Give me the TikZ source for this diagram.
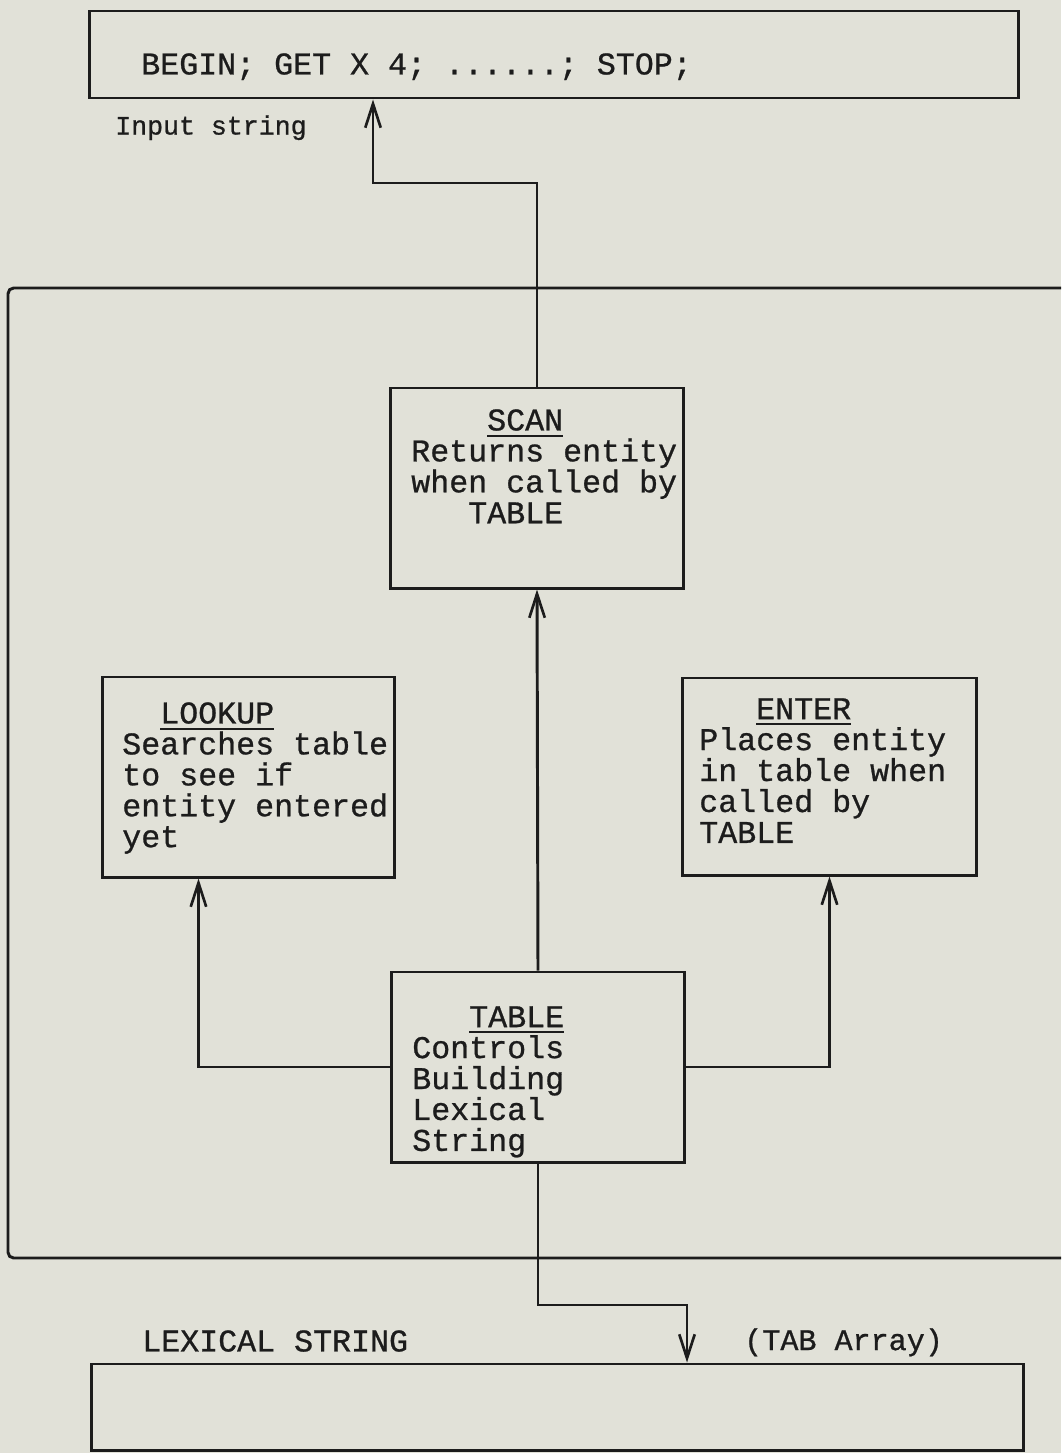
\documentclass[tikz,border=0pt]{standalone}
\usepackage{fontspec}
\newfontfamily\typer{Liberation Mono}[WordSpace={1,0,0},PunctuationSpace=WordSpace,FakeBold=0.8]
\usetikzlibrary{positioning, calc, arrows.meta}
\usepackage{xcolor}
\definecolor{Paper}{HTML}{E1E1D8}
\definecolor{Ink}  {HTML}{1C1C1C}
\newcommand{\rubric}[1]{\setbox0\hbox{#1}\rlap{\rule[-0.2em]{\wd0}{1.5pt}}\box0}
\tikzset{
  every node/.style={font={\typer\fontsize{22.5}{22}\selectfont\frenchspacing},
                     text=Ink, inner sep=0pt},
  % routine boxes
  box/.style ={draw=Ink, line width=2.1pt, minimum width=7.3cm, minimum height=5cm},
  body/.style={anchor=north west, align=left},
  tag/.style ={anchor=north west},
  small/.style={font={\typer\fontsize{18.9}{22}\selectfont}},
  flow/.style={draw=Ink, line width=2.1pt,
               -{Straight Barb[length=17pt, width=11pt, line width=1.9pt]}},
}
\begin{document}
\begin{tikzpicture}[x=0.025cm, y=-0.025cm]

\fill[Paper] (0,0) rectangle (1061,1453);
\useasboundingbox (0,0) rectangle (1061,1453);

% input string (top) and lexical string (bottom)
\node[box, minimum width=23.2cm, minimum height=2.175cm] (input) at (554,54.5) {};
\node[tag] (source) at (141,53) {BEGIN; GET X 4; ......; STOP;};
\node[tag, small] (inlabel) at (115,115) {Input string};

\node[box, minimum width=23.275cm, minimum height=2.15cm] (lexical) at (557.5,1407) {};
\node[tag] (lexlabel) at (142,1330) {LEXICAL STRING};
\node[tag, font={\typer\fontsize{21.4}{22}\selectfont}] (tablabel) at (744,1328) {(TAB Array)};

% outer frame, open to the right
\draw[draw=Ink, line width=2.1pt, rounded corners=4pt]
  (1061,288) -- (8,288) -- (8,1258) -- (1061,1258);

% routines
\node[box] (scan) at (537,488) {};
\node[body] (scantext) at (411,409)
  {\hphantom{XXXX}\rubric{SCAN}\\Returns entity\\when called by\\\hphantom{XXX}TABLE};

\node[box, minimum width=7.275cm] (lookup) at (248.5,777) {};
\node[body] (lookuptext) at (122,702)
  {\hphantom{XX}\rubric{LOOKUP}\\Searches table\\to see if\\entity entered\\yet};

\node[box, minimum width=7.325cm, minimum height=4.925cm] (enter) at (829.5,776.5) {};
\node[body] (entertext) at (699,698)
  {\hphantom{XXX}\rubric{ENTER}\\Places entity\\in table when\\called by\\TABLE};

\node[box, minimum height=4.75cm] (table) at (538,1067) {};
\node[body] (tabletext) at (412,1006)
  {\hphantom{XXX}\rubric{TABLE}\\Controls\\Building\\Lexical\\String};

% connectors
\coordinate (upbend)   at (373,183);
\coordinate (downbend) at (687,1305);

\draw[flow] (scan.north) |- (upbend) -- (upbend |- input.south);
\draw[flow] (table.north) -- (scan.south);
\draw[flow] (table.west) -| ($(lookup.south west)+(97,0)$);
\draw[flow] (table.east) -| (enter.south);
\draw[flow] (table.south) |- (downbend) -- (downbend |- lexical.north);

\end{tikzpicture}
\end{document}
